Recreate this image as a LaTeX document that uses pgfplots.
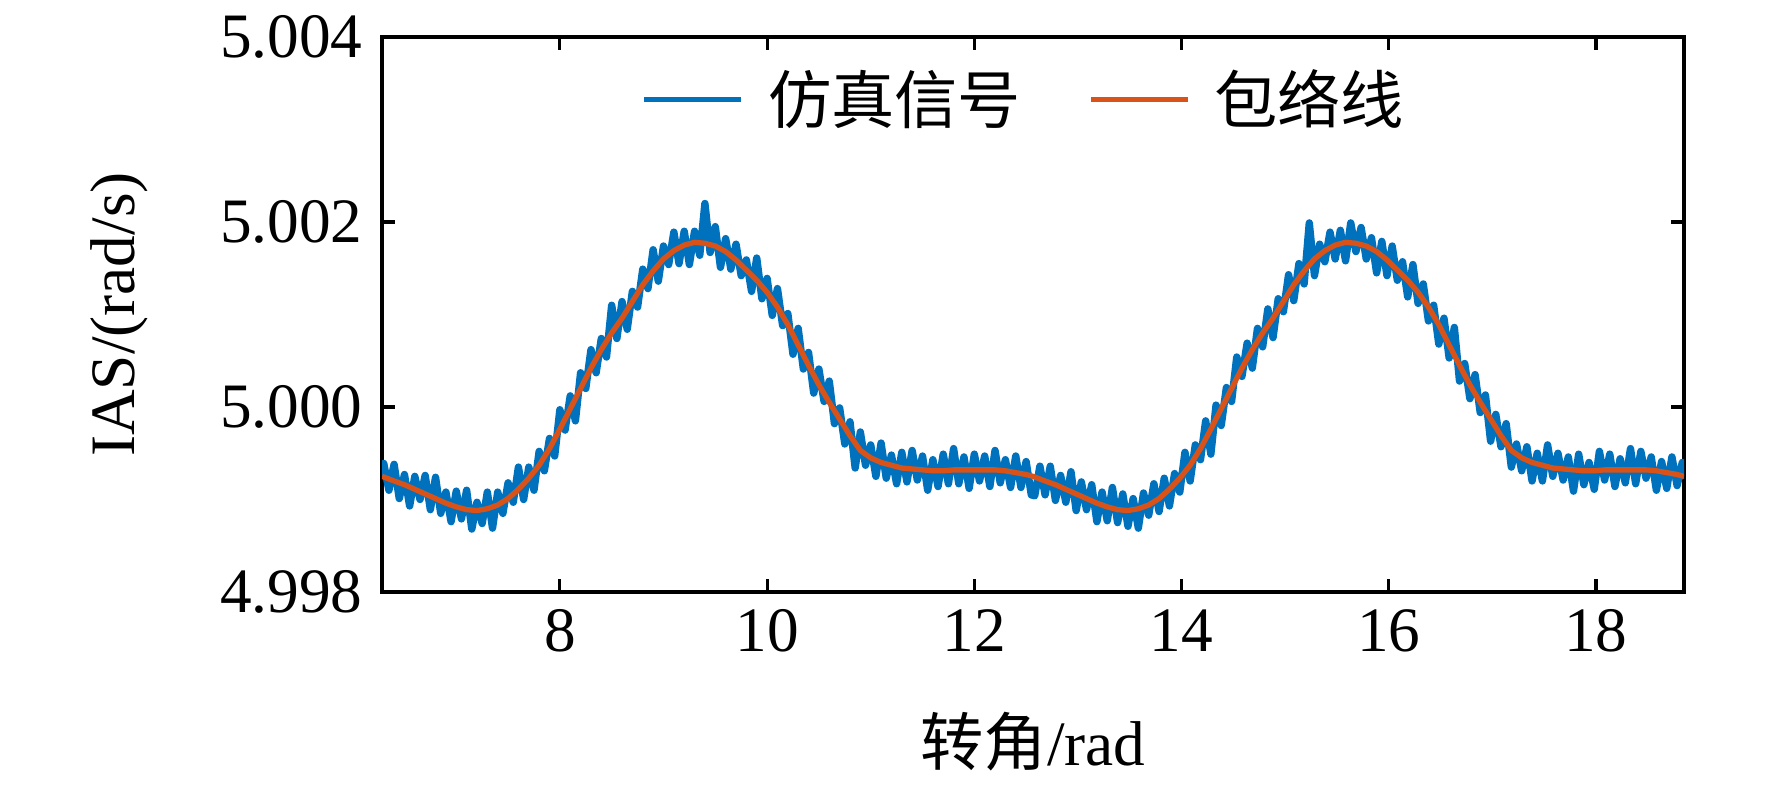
\documentclass[border=0pt]{standalone}
\usepackage{fontspec}
\setmainfont{Liberation Serif}
\newfontfamily\cjk{Noto Sans CJK SC}
\usepackage{pgfplots}
\usepackage{pgfplotstable}
\pgfplotsset{compat=1.18}
\usetikzlibrary{calc}
\definecolor{mblue}{RGB}{0,114,189}
\definecolor{morange}{RGB}{217,83,25}

\pgfplotstableread{
x y
6.2832 4.99925
6.30 4.99939
6.35 4.99910
6.40 4.99938
6.45 4.99901
6.50 4.99927
6.55 4.99893
6.60 4.99925
6.65 4.99900
6.70 4.99926
6.75 4.99889
6.80 4.99924
6.85 4.99885
6.90 4.99908
6.95 4.99876
7.00 4.99909
7.05 4.99879
7.10 4.99910
7.15 4.99868
7.20 4.99897
7.25 4.99874
7.30 4.99908
7.35 4.99869
7.40 4.99908
7.45 4.99885
7.50 4.99918
7.55 4.99897
7.60 4.99935
7.65 4.99900
7.70 4.99935
7.75 4.99910
7.80 4.99952
7.85 4.99931
7.90 4.99966
7.95 4.99947
8.00 4.99997
8.05 4.99975
8.10 5.00012
8.15 4.99985
8.20 5.00037
8.25 5.00020
8.30 5.00062
8.35 5.00037
8.40 5.00074
8.45 5.00054
8.50 5.00110
8.55 5.00074
8.60 5.00114
8.65 5.00084
8.70 5.00125
8.75 5.00108
8.80 5.00149
8.85 5.00128
8.90 5.00170
8.95 5.00136
9.00 5.00174
9.05 5.00154
9.10 5.00189
9.15 5.00155
9.20 5.00190
9.25 5.00154
9.30 5.00190
9.35 5.00164
9.40 5.00220
9.45 5.00167
9.50 5.00195
9.55 5.00151
9.60 5.00182
9.65 5.00149
9.70 5.00176
9.75 5.00142
9.80 5.00159
9.85 5.00125
9.90 5.00161
9.95 5.00117
10.00 5.00139
10.05 5.00099
10.10 5.00128
10.15 5.00088
10.20 5.00101
10.25 5.00057
10.30 5.00085
10.35 5.00041
10.40 5.00059
10.45 5.00015
10.50 5.00041
10.55 5.00006
10.60 5.00028
10.65 4.99982
10.70 4.99999
10.75 4.99960
10.80 4.99984
10.85 4.99934
10.90 4.99973
10.95 4.99937
11.00 4.99959
11.05 4.99925
11.10 4.99961
11.15 4.99923
11.20 4.99948
11.25 4.99917
11.30 4.99951
11.35 4.99919
11.40 4.99953
11.45 4.99921
11.50 4.99947
11.55 4.99910
11.60 4.99943
11.65 4.99914
11.70 4.99949
11.75 4.99917
11.80 4.99955
11.85 4.99917
11.90 4.99946
11.95 4.99912
12.00 4.99949
12.05 4.99920
12.10 4.99947
12.15 4.99914
12.20 4.99953
12.25 4.99918
12.30 4.99943
12.35 4.99913
12.40 4.99947
12.45 4.99913
12.50 4.99941
12.55 4.99905
12.583 4.99904
12.633 4.99936
12.683 4.99905
12.733 4.99936
12.783 4.99899
12.833 4.99926
12.883 4.99897
12.933 4.99930
12.983 4.99888
13.033 4.99919
13.083 4.99889
13.133 4.99916
13.183 4.99876
13.233 4.99908
13.283 4.99877
13.333 4.99913
13.383 4.99875
13.433 4.99906
13.483 4.99871
13.533 4.99901
13.583 4.99869
13.633 4.99907
13.683 4.99883
13.733 4.99917
13.783 4.99887
13.833 4.99923
13.883 4.99893
13.933 4.99928
13.983 4.99908
14.033 4.99951
14.083 4.99920
14.133 4.99959
14.183 4.99943
14.233 4.99985
14.283 4.99949
14.333 5.00002
14.383 4.99980
14.433 5.00021
14.483 5.00006
14.533 5.00054
14.583 5.00033
14.633 5.00069
14.683 5.00042
14.733 5.00085
14.783 5.00065
14.833 5.00106
14.883 5.00075
14.933 5.00117
14.983 5.00103
15.033 5.00143
15.083 5.00115
15.133 5.00155
15.183 5.00133
15.233 5.00199
15.283 5.00142
15.333 5.00176
15.383 5.00157
15.433 5.00189
15.483 5.00160
15.533 5.00191
15.583 5.00158
15.633 5.00199
15.683 5.00168
15.733 5.00194
15.783 5.00160
15.833 5.00183
15.883 5.00145
15.933 5.00179
15.983 5.00142
16.033 5.00174
16.083 5.00137
16.133 5.00157
16.183 5.00119
16.233 5.00154
16.283 5.00112
16.333 5.00133
16.383 5.00093
16.433 5.00110
16.483 5.00068
16.533 5.00096
16.583 5.00053
16.633 5.00086
16.683 5.00028
16.733 5.00047
16.783 5.00009
16.833 5.00035
16.883 4.99994
16.933 5.00013
16.983 4.99963
17.033 4.99992
17.083 4.99957
17.133 4.99982
17.183 4.99935
17.233 4.99960
17.283 4.99931
17.333 4.99957
17.383 4.99920
17.433 4.99950
17.483 4.99920
17.533 4.99959
17.583 4.99925
17.633 4.99950
17.683 4.99921
17.733 4.99946
17.783 4.99909
17.833 4.99949
17.883 4.99916
17.933 4.99940
17.983 4.99911
18.033 4.99952
18.083 4.99921
18.133 4.99949
18.183 4.99914
18.233 4.99944
18.283 4.99918
18.333 4.99955
18.383 4.99917
18.433 4.99952
18.483 4.99923
18.533 4.99946
18.583 4.99910
18.633 4.99941
18.683 4.99912
18.733 4.99946
18.783 4.99915
18.833 4.99940
18.8496 4.99922
}\signal

\pgfplotstableread{
x y
6.2832 4.99925
6.4 4.99920
6.5 4.99916
6.6 4.99911
6.7 4.99906
6.8 4.99901
6.9 4.99896
7.0 4.99892
7.1 4.99889
7.2 4.99888
7.3 4.99890
7.4 4.99894
7.5 4.99901
7.6 4.99911
7.7 4.99923
7.8 4.99937
7.9 4.99955
8.0 4.99976
8.1 4.99998
8.2 5.00020
8.3 5.00042
8.4 5.00062
8.5 5.00080
8.6 5.00096
8.7 5.00114
8.8 5.00132
8.9 5.00147
9.0 5.00160
9.1 5.00169
9.2 5.00175
9.3 5.00178
9.4 5.00177
9.5 5.00174
9.6 5.00168
9.7 5.00159
9.8 5.00148
9.9 5.00137
10.0 5.00124
10.1 5.00108
10.2 5.00089
10.3 5.00067
10.4 5.00045
10.5 5.00024
10.6 5.00005
10.7 4.99987
10.8 4.99969
10.9 4.99953
11.0 4.99945
11.1 4.99940
11.2 4.99937
11.3 4.99934
11.4 4.99933
11.5 4.99932
11.6 4.99931
11.7 4.99931
11.8 4.99932
11.9 4.99932
12.0 4.99932
12.1 4.99932
12.2 4.99932
12.3 4.99931
12.4 4.99929
12.5 4.99927
12.5664 4.99925
12.683 4.99920
12.783 4.99916
12.883 4.99911
12.983 4.99906
13.083 4.99901
13.183 4.99896
13.283 4.99892
13.383 4.99889
13.483 4.99888
13.583 4.99890
13.683 4.99894
13.783 4.99901
13.883 4.99911
13.983 4.99923
14.083 4.99937
14.183 4.99955
14.283 4.99976
14.383 4.99998
14.483 5.00020
14.583 5.00042
14.683 5.00062
14.783 5.00080
14.883 5.00096
14.983 5.00114
15.083 5.00132
15.183 5.00147
15.283 5.00160
15.383 5.00169
15.483 5.00175
15.583 5.00178
15.683 5.00177
15.783 5.00174
15.883 5.00168
15.983 5.00159
16.083 5.00148
16.183 5.00137
16.283 5.00124
16.383 5.00108
16.483 5.00089
16.583 5.00067
16.683 5.00045
16.783 5.00024
16.883 5.00005
16.983 4.99987
17.083 4.99969
17.183 4.99953
17.283 4.99945
17.383 4.99940
17.483 4.99937
17.583 4.99934
17.683 4.99933
17.783 4.99932
17.883 4.99931
17.983 4.99931
18.083 4.99932
18.183 4.99932
18.283 4.99932
18.383 4.99932
18.483 4.99932
18.583 4.99931
18.683 4.99929
18.783 4.99927
18.8496 4.99925
}\envelope

\begin{document}
\begin{tikzpicture}
\begin{axis}[
  scale only axis,
  width=130.2mm, height=55.5mm,
  xmin=6.2832, xmax=18.8496,
  ymin=4.998, ymax=5.004,
  xtick={8,10,12,14,16,18},
  ytick={4.998,5.000,5.002,5.004},
  yticklabels={4.998,5.000,5.002,5.004},
  tick align=inside,
  major tick length=1.3mm,
  axis line style={line width=0.9pt},
  tick style={black, line width=0.9pt},
  /pgf/number format/assume math mode=true,
  ticklabel style={font=\fontsize{18}{20}\selectfont},
  xticklabel style={yshift=-0.5mm},
  yticklabel style={xshift=-0.7mm},
  xlabel={{\cjk 转角}/rad},
  ylabel={IAS/(rad/s)},
  label style={font=\fontsize{18}{20}\selectfont},
  xlabel style={at={(axis description cs:0.5,-0.27)}, anchor=center},
  ylabel style={at={(axis description cs:-0.179,0.5)}, anchor=south, inner sep=0pt},
  legend style={at={(axis description cs:0.495,0.888)}, anchor=center,
    draw=none, fill=none, font=\fontsize{18}{20}\selectfont\cjk,
    legend columns=2,
    /tikz/every odd column/.append style={column sep=1.7mm},
    /tikz/every even column/.append style={column sep=6mm}},
  legend image code/.code={\draw[#1, line width=1.5pt] (0mm,0mm) -- (9.7mm,0mm);},
]
\addplot[mblue, line width=2.1pt, line join=round] table[x=x,y=y] {\signal};
\addplot[morange, line width=1.5pt, line join=round] table[x=x,y=y] {\envelope};
\legend{仿真信号, 包络线}
\end{axis}
\pgfresetboundingbox
\path[use as bounding box] ($(current axis.south west)+(-38.2mm,-19.8mm)$) rectangle ($(current axis.north east)+(8.8mm,3.7mm)$);
\end{tikzpicture}
\end{document}
